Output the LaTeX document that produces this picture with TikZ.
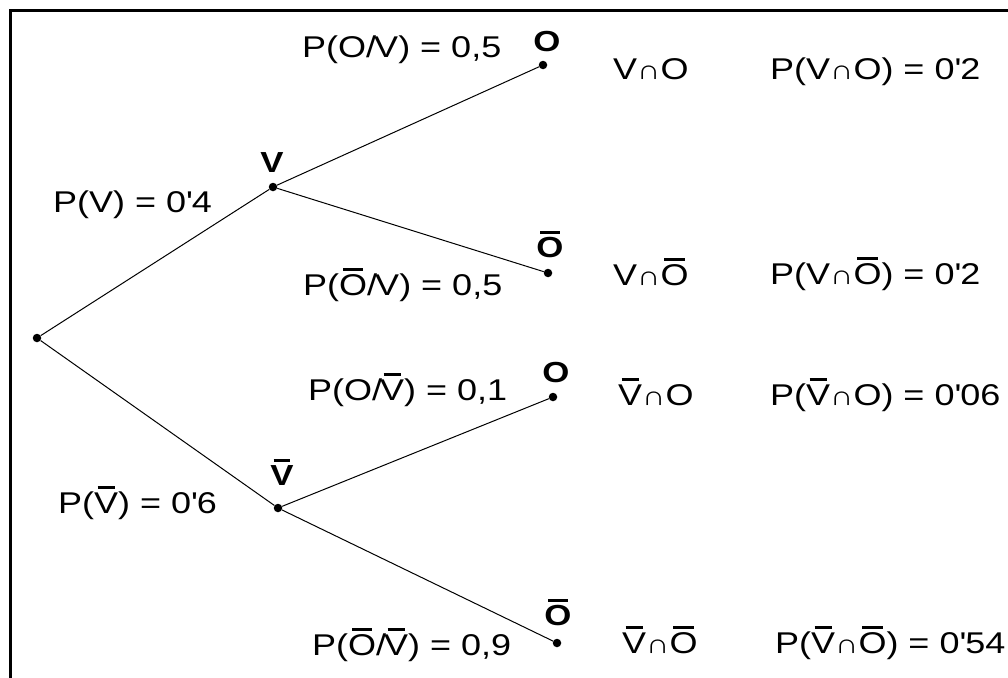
\documentclass[tikz,border=0pt]{standalone}
\usepackage{fontspec}
\setmainfont{Liberation Sans}[FakeStretch=1.2]

% bar over a letter
\newcommand\ovl[1]{\leavevmode\setbox0\hbox{#1}%
  \rlap{\hbox to\wd0{\hss\vrule height\dimexpr\ht0+6pt\relax depth\dimexpr-\ht0-3pt\relax width .72\wd0\hss}}\box0}
\newcommand\capsym{{\fontsize{27}{27}\selectfont ∩}}
\newcommand\ap{\textquotesingle}

\begin{document}
\begin{tikzpicture}[
  x=1pt, y=-1pt,
  dot/.style={circle,fill,inner sep=0pt,minimum size=8.5pt},
  lbl/.style={anchor=base west,inner sep=0pt,font=\fontsize{30}{36}\selectfont},
  bnode/.style={anchor=base,inner sep=0pt,font=\bfseries\fontsize{29}{32}\selectfont},
  branch/.style={line width=1pt}
]
  \clip (0,0) rectangle (1008,677);
  \draw[line width=3pt] (10,700) -- (10,11) -- (1030,11);

  \node[dot] (r) at (37,338) {};
  \node[dot] (v) at (273,187) {};
  \node[dot] (nv) at (278,508) {};
  \node[dot] (v-o) at (543,65) {};
  \node[dot] (v-no) at (548,273) {};
  \node[dot] (nv-o) at (553,397) {};
  \node[dot] (nv-no) at (557,643) {};

  \draw[branch] (r) -- (v);
  \draw[branch] (r) -- (nv);
  \draw[branch] (v) -- (v-o);
  \draw[branch] (v) -- (v-no);
  \draw[branch] (nv) -- (nv-o);
  \draw[branch] (nv) -- (nv-no);

  % vertex letters
  \node[bnode] (lv) at (272,172) {V};
  \node[bnode] (lnv) at (282,485) {\ovl{V}};
  \node[bnode] (lv-o) at (547,52) {O};
  \node[bnode] (lv-no) at (550,257) {\ovl{O}};
  \node[bnode] (lnv-o) at (556,382) {O};
  \node[bnode] (lnv-no) at (558,625) {\ovl{O}};

  % branch probabilities
  \node[lbl] (pv) at (53,212) {P(V) = 0\ap4};
  \node[lbl] (pnv) at (58,513) {P(\ovl{V}) = 0\ap6};
  \node[lbl] (pv-o) at (302,57) {P(O/\kern-2pt V) = 0,5};
  \node[lbl] (pv-no) at (303,295) {P(\ovl{O}/\kern-2pt V) = 0,5};
  \node[lbl] (pnv-o) at (308,400) {P(O/\kern-2pt\ovl{V}) = 0,1};
  \node[lbl] (pnv-no) at (312,655) {P(\ovl{O}/\kern-2pt\ovl{V}) = 0,9};

  % outcomes
  \node[lbl] (ev-o) at (613,79) {V\capsym O};
  \node[lbl] (ev-no) at (613,285) {V\capsym\ovl{O}};
  \node[lbl] (env-o) at (618,405) {\ovl{V}\capsym O};
  \node[lbl] (env-no) at (622,653) {\ovl{V}\capsym\ovl{O}};
  \node[lbl] (qv-o) at (770,79) {P(V\capsym O) = 0\ap2};
  \node[lbl] (qv-no) at (770,284) {P(V\capsym\ovl{O}) = 0\ap2};
  \node[lbl] (qnv-o) at (770,405) {P(\ovl{V}\capsym O) = 0\ap06};
  \node[lbl] (qnv-no) at (775,653) {P(\ovl{V}\capsym\ovl{O}) = 0\ap54};
\end{tikzpicture}
\end{document}
